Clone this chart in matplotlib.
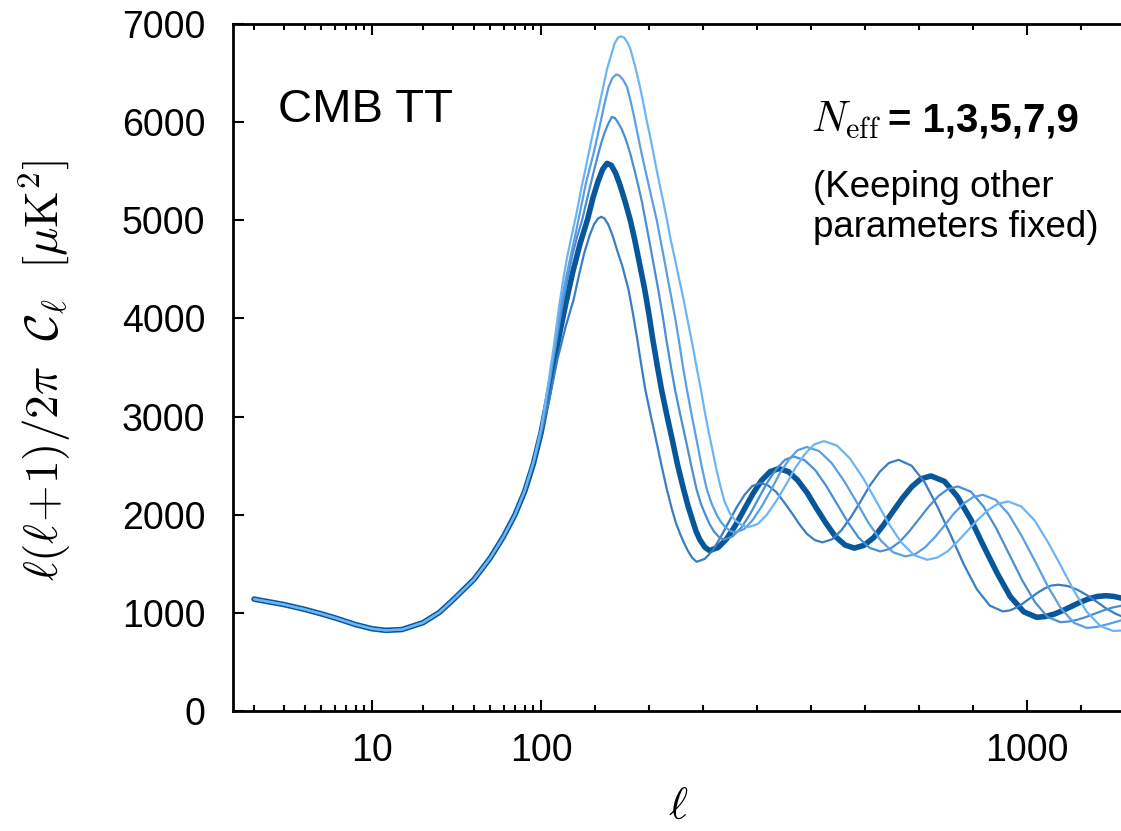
import numpy as np
import matplotlib
matplotlib.use('Agg')
import matplotlib.pyplot as plt
from matplotlib.ticker import NullFormatter

plt.rcParams['font.family'] = ['Liberation Sans', 'DejaVu Sans']
plt.rcParams['mathtext.fontset'] = 'cm'

# low multipoles: the five spectra lie on top of each other here
ell_low = [2, 3, 4, 5, 6, 8, 10, 12, 15, 20, 25, 30, 40, 50, 60, 70]
d_low = [1140, 1085, 1035, 990, 950, 880, 838, 822, 830, 900, 1005, 1130,
         1340, 1560, 1780, 2000]

# N_eff = 1
ell_n1 = [80, 90, 100, 115, 130, 145, 160, 170, 180, 190, 198, 205, 211, 217,
          224, 232, 241, 250, 262, 270, 278, 285, 293, 303, 313, 323, 333, 342,
          350, 357, 364, 372, 380, 388,
          403, 418, 432, 447, 462, 477, 491, 506,
          520, 535, 549, 564, 578, 592, 607, 621,
          639, 656, 674, 692, 709, 727, 744, 762,
          786, 810, 834, 859, 883, 907, 931, 955,
          968, 981, 993, 1006, 1019, 1032, 1044, 1057,
          1075, 1093, 1111, 1129, 1146, 1164, 1175]
d_n1 = [2240, 2520, 2830, 3170, 3580, 3910, 4188, 4440, 4670, 4850, 4960, 5015,
        5036, 5020, 4960, 4850, 4690, 4540, 4290, 4050, 3790, 3540, 3273, 3010,
        2760, 2500, 2255, 2060, 1910, 1810, 1720, 1630, 1560, 1520,
        1550, 1637, 1768, 1921, 2074, 2205, 2292, 2322,
        2299, 2234, 2135, 2020, 1905, 1806, 1741, 1718,
        1750, 1841, 1978, 2139, 2299, 2436, 2527, 2559,
        2500, 2334, 2082, 1787, 1492, 1240, 1074, 1015,
        1025, 1055, 1099, 1151, 1203, 1247, 1277, 1287,
        1274, 1236, 1180, 1113, 1047, 991, 965]

# N_eff = 3 (thick)
ell_n3 = [80, 90, 100, 113, 125, 135, 146, 158, 172, 186, 196, 205, 214, 222,
          230, 238, 246, 255, 265, 273, 280, 292, 300, 307, 315, 323, 333, 343,
          353, 364, 372, 380, 387, 394, 403, 412,
          428, 444, 460, 476, 492, 508, 524, 540,
          558, 575, 593, 610, 628, 645, 663, 680,
          698, 716, 733, 751, 769, 787, 804, 822,
          847, 871, 896, 920, 945, 969, 994, 1018,
          1034, 1050, 1066, 1082, 1098, 1114, 1130, 1146, 1160, 1175]
d_n3 = [2240, 2520, 2840, 3210, 3580, 3870, 4160, 4460, 4760, 5010, 5230, 5390,
        5520, 5580, 5560, 5480, 5360, 5200, 5004, 4810, 4620, 4290, 4030, 3780,
        3520, 3273, 3010, 2760, 2500, 2255, 2090, 1950, 1830, 1745, 1670, 1635,
        1667, 1757, 1893, 2053, 2212, 2348, 2438, 2470,
        2439, 2352, 2220, 2065, 1910, 1778, 1691, 1660,
        1688, 1767, 1887, 2028, 2168, 2288, 2367, 2395,
        2340, 2185, 1950, 1675, 1400, 1165, 1010, 955,
        963, 987, 1023, 1065, 1107, 1143, 1167, 1175, 1168, 1150]

# N_eff = 5
ell_n5 = [80, 90, 100, 113, 125, 133, 141, 150, 158, 167, 176, 183, 190, 198,
          206, 212, 218, 224, 231, 237, 243, 249, 255, 260, 265, 272, 280, 287,
          293, 299, 305, 311, 317, 325, 332, 340, 348, 358, 368, 378, 388, 396,
          405, 412, 420, 429, 438,
          454, 471, 487, 503, 519, 536, 552, 568,
          588, 608, 628, 648, 668, 688, 708, 728,
          746, 764, 782, 800, 818, 836, 854, 872,
          896, 919, 943, 967, 991, 1015, 1038, 1062,
          1078, 1094, 1110, 1126, 1142, 1158, 1175]
d_n5 = [2240, 2520, 2850, 3260, 3660, 3930, 4188, 4440, 4650, 4840, 5004, 5170,
        5330, 5510, 5681, 5800, 5900, 5980, 6054, 6040, 5990, 5930, 5850, 5770,
        5681, 5530, 5350, 5180, 5004, 4830, 4650, 4470, 4290, 4030, 3780, 3520,
        3273, 3010, 2760, 2500, 2255, 2110, 1990, 1905, 1830, 1775, 1745,
        1777, 1869, 2007, 2169, 2331, 2469, 2561, 2593,
        2556, 2452, 2294, 2109, 1925, 1767, 1663, 1626,
        1651, 1723, 1831, 1957, 2083, 2191, 2263, 2288,
        2235, 2086, 1861, 1596, 1332, 1107, 958, 905,
        912, 931, 959, 993, 1026, 1054, 1073]

# N_eff = 7
ell_n7 = [80, 90, 100, 113, 125, 138, 146, 154, 162, 169, 176, 183, 190, 197,
          204, 210, 217, 225, 232, 239, 245, 252, 259, 265, 272, 279, 286, 293,
          300, 307, 314, 321, 328, 335, 342, 349, 355, 362, 370, 379, 388, 397,
          407, 416, 425, 433, 442, 450, 459,
          476, 492, 509, 526, 542, 559, 575, 592,
          615, 638, 661, 684, 706, 729, 752, 775,
          793, 811, 829, 847, 864, 882, 900, 918,
          942, 966, 990, 1015, 1039, 1063, 1087, 1111,
          1130, 1150, 1175]
d_n7 = [2245, 2530, 2860, 3290, 3700, 4188, 4410, 4620, 4820, 5004, 5190, 5380,
        5530, 5681, 5850, 6000, 6180, 6360, 6450, 6486, 6475, 6430, 6360, 6230,
        6060, 5870, 5681, 5510, 5340, 5170, 5004, 4800, 4600, 4390, 4188, 3980,
        3780, 3530, 3273, 3010, 2760, 2500, 2255, 2110, 2000, 1925, 1870, 1835,
        1820,
        1853, 1947, 2089, 2255, 2421, 2563, 2657, 2690,
        2648, 2527, 2345, 2132, 1920, 1738, 1617, 1575,
        1599, 1667, 1769, 1889, 2009, 2111, 2179, 2203,
        2151, 2005, 1784, 1524, 1265, 1044, 898, 846,
        858, 885, 925]

# N_eff = 9
ell_n9 = [80, 90, 100, 113, 123, 134, 141, 148, 156, 163, 169, 175, 182, 188,
          194, 200, 208, 215, 222, 230, 236, 242, 248, 254, 260, 265, 274, 283,
          289, 295, 302, 308, 314, 320, 327, 333, 340, 348, 356, 364, 372, 380,
          388, 396, 403, 410, 418, 425, 433, 440, 450, 460, 471, 483,
          501, 518, 536, 554, 571, 589, 606, 624,
          648, 672, 696, 720, 743, 767, 791, 815,
          834, 853, 871, 890, 909, 928, 946, 965,
          989, 1014, 1038, 1063, 1087, 1111, 1136, 1160, 1175]
d_n9 = [2250, 2540, 2880, 3330, 3700, 4150, 4400, 4620, 4830, 5004, 5170, 5340,
        5520, 5681, 5840, 5990, 6180, 6360, 6540, 6690, 6800, 6860, 6875, 6860,
        6810, 6750, 6570, 6360, 6200, 6030, 5850, 5681, 5510, 5350, 5170, 5004,
        4800, 4600, 4390, 4188, 3960, 3740, 3500, 3273, 3050, 2850, 2640, 2450,
        2270, 2130, 2010, 1940, 1895, 1872,
        1905, 2000, 2143, 2311, 2479, 2622, 2717, 2750,
        2704, 2573, 2376, 2145, 1915, 1718, 1587, 1541,
        1564, 1628, 1725, 1838, 1951, 2048, 2112, 2135,
        2085, 1942, 1727, 1475, 1223, 1008, 865, 815, 820]

x_major = [10, 100, 1000]
x_major_labels = ['10', '100', '1000']
x_minor = [2, 3, 4, 5, 6, 7, 8, 9, 20, 30, 40, 50, 60, 70, 80, 90,
           200, 300, 400, 500, 600, 700, 800, 900, 1100]
y_ticks = [0, 1000, 2000, 3000, 4000, 5000, 6000, 7000]

# log in ell below 100, linear above
K = 0.003195


def _fwd(x):
    x = np.asarray(x, dtype=float)
    lg = np.log10(np.clip(x, 1e-3, None))
    return np.where(x <= 100, lg, 2 + (x - 100) * K)


def _inv(y):
    y = np.asarray(y, dtype=float)
    return np.where(y <= 2, 10 ** np.clip(y, -5, 2), 100 + (y - 2) / K)


fig = plt.figure(figsize=(11.21, 8.31), dpi=100)
ax = fig.add_axes([0.2078, 0.1444, 0.7922, 0.8267])
ax.set_xscale('function', functions=(_fwd, _inv))

series = [
    (ell_n3, d_n3, '#07579a', 4.0),
    (ell_n1, d_n1, '#3b7dc2', 1.6),
    (ell_n5, d_n5, '#4a8ed4', 1.6),
    (ell_n7, d_n7, '#5a9fe4', 1.6),
    (ell_n9, d_n9, '#6cb5f5', 1.6),
]
for ell, d, c, lw in series:
    ax.plot(ell_low + ell, d_low + d, color=c, lw=lw,
            solid_joinstyle='round', solid_capstyle='round')

ax.set_xlim(1.5, 1174)
ax.set_ylim(0, 7000)
ax.set_xticks(x_major, x_major_labels)
ax.set_xticks(x_minor, minor=True)
ax.xaxis.set_minor_formatter(NullFormatter())
ax.set_yticks(y_ticks)

ax.tick_params(which='both', direction='in', top=True, right=False,
               width=1.5, labelsize=27)
ax.tick_params(which='major', length=8)
ax.tick_params(which='minor', length=4)
ax.tick_params(axis='x', pad=16)
ax.tick_params(axis='y', pad=20)
ax.spines['right'].set_visible(False)
for s in ['left', 'top', 'bottom']:
    ax.spines[s].set_linewidth(2)

W, H = 1121, 831
fig.text(45 / W, 1 - 370 / H,
         r'$\ell(\ell\!+\!1)/2\pi\ \ \mathcal{C}_\ell\ \ [\mu{\rm K}^2]$',
         fontsize=34, rotation=90, ha='center', va='center')
fig.text(678 / W, 1 - 829 / H, r'$\ell$', fontsize=33, ha='center',
         va='bottom')

fig.text(278 / W, 1 - 122 / H, 'CMB TT', fontsize=34, va='baseline')
fig.text(811 / W, 1 - 132 / H, r'$N_{\rm eff}$', fontsize=31, va='baseline')
fig.text(888 / W, 1 - 132 / H, '= 1,3,5,7,9', fontsize=29,
         fontweight='bold', va='baseline')
fig.text(813 / W, 1 - 197 / H, '(Keeping other', fontsize=26.5,
         va='baseline')
fig.text(813 / W, 1 - 237 / H, 'parameters fixed)', fontsize=26.5,
         va='baseline')

fig.savefig('out.png', dpi=100)
